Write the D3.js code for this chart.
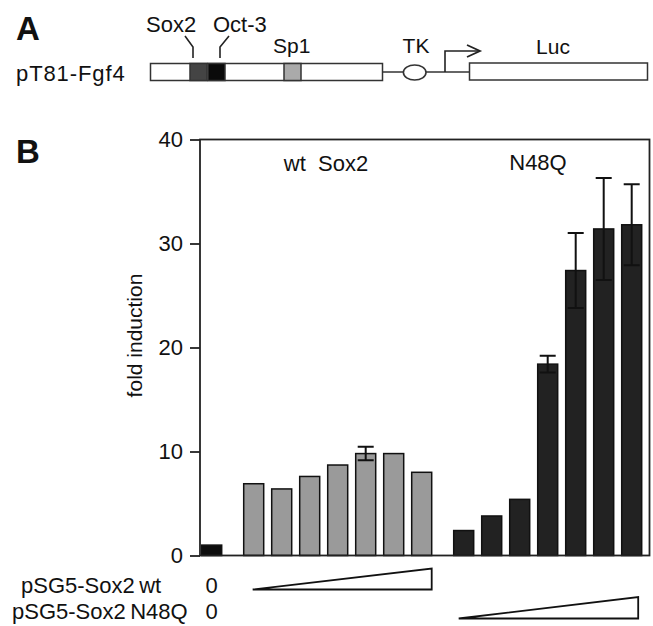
<!DOCTYPE html>
<html>
<head>
<meta charset="utf-8">
<script src="https://cdn.jsdelivr.net/npm/d3@7"></script>
<style>
  body { margin: 0; background: #fff; }
  text { font-family: "Liberation Sans", Arial, Helvetica, sans-serif; fill: #111; }
</style>
</head>
<body>
<div id="main"></div>
<script>
// values
var ctrlValue = [1.0];
var wtValues = [6.9, 6.4, 7.6, 8.7, 9.8, 9.8, 8.0];
var wtErr = [0, 0, 0, 0, 0.65, 0, 0];
var n48qValues = [2.4, 3.8, 5.4, 18.4, 27.4, 31.4, 31.8];
var n48qErr = [0, 0, 0, 0.8, 3.6, 4.9, 3.9];
var yTicks = [0, 10, 20, 30, 40];

var w = 653, h = 626;

var svg = d3.select("#main")
  .append("svg")
  .attr("width", w)
  .attr("height", h);

// ---------- panel A : reporter construct ----------
var a = svg.append("g");

a.append("text").attr("x", 16).attr("y", 40)
  .style("font-size", "33px").style("font-weight", "bold").text("A");
a.append("text").attr("x", 16).attr("y", 81)
  .style("font-size", "22px").style("letter-spacing", "0.9px").text("pT81-Fgf4");

// promoter box
a.append("rect").attr("x", 150.5).attr("y", 63.5).attr("width", 232).attr("height", 17)
  .attr("fill", "#fff").attr("stroke", "#333").attr("stroke-width", 1.5);
var sites = [
  {x: 190, w: 17, fill: "#444"},
  {x: 208, w: 17, fill: "#0a0a0a"},
  {x: 284, w: 17, fill: "#aaa"}
];
a.selectAll(".site").data(sites).enter().append("rect")
  .attr("x", function(d) { return d.x; })
  .attr("y", 63.5)
  .attr("width", function(d) { return d.w; })
  .attr("height", 17)
  .attr("fill", function(d) { return d.fill; })
  .attr("stroke", "#333").attr("stroke-width", 1.5);

// leader lines
a.append("path").attr("d", "M185,36 L193,47 L193,58").attr("fill", "none")
  .attr("stroke", "#222").attr("stroke-width", 1.6);
a.append("path").attr("d", "M229,36 L220,47 L220,58").attr("fill", "none")
  .attr("stroke", "#222").attr("stroke-width", 1.6);

a.append("text").attr("x", 146).attr("y", 32).style("font-size", "22px").text("Sox2");
a.append("text").attr("x", 213).attr("y", 32).style("font-size", "22px").text("Oct-3");
a.append("text").attr("x", 273).attr("y", 53).style("font-size", "21px").text("Sp1");

// linker, TK and start arrow
a.append("line").attr("x1", 382.5).attr("x2", 469).attr("y1", 72).attr("y2", 72)
  .attr("stroke", "#333").attr("stroke-width", 1.6);
a.append("ellipse").attr("cx", 414.7).attr("cy", 72.5).attr("rx", 11.3).attr("ry", 7.5)
  .attr("fill", "#fff").attr("stroke", "#333").attr("stroke-width", 1.6);
a.append("text").attr("x", 416).attr("y", 53).attr("text-anchor", "middle")
  .style("font-size", "21px").text("TK");
a.append("path").attr("d", "M445,72 L445,51 L479,51").attr("fill", "none")
  .attr("stroke", "#222").attr("stroke-width", 1.6);
a.append("path").attr("d", "M467,45 L480,51 L467,57").attr("fill", "none")
  .attr("stroke", "#222").attr("stroke-width", 1.8);

// luciferase box
a.append("rect").attr("x", 469.5).attr("y", 63).attr("width", 178).attr("height", 17)
  .attr("fill", "#fff").attr("stroke", "#333").attr("stroke-width", 1.5);
a.append("text").attr("x", 553).attr("y", 54).attr("text-anchor", "middle")
  .style("font-size", "21px").text("Luc");

// ---------- panel B : bar chart ----------
svg.append("text").attr("x", 16).attr("y", 163)
  .style("font-size", "33px").style("font-weight", "bold").text("B");

var plotLeft = 200, plotRight = 649.5, plotTop = 139.5, plotBottom = 555.5;

var y = d3.scaleLinear().domain([0, 40]).range([plotBottom, plotTop]);

// slot positions: control, wt series, N48Q series with one-and-a-half slot gaps
var bars = [];
ctrlValue.forEach(function(v) { bars.push({slot: 0, v: v, e: 0, kind: "ctrl"}); });
wtValues.forEach(function(v, i) { bars.push({slot: 1.5 + i, v: v, e: wtErr[i], kind: "wt"}); });
n48qValues.forEach(function(v, i) { bars.push({slot: 9 + i, v: v, e: n48qErr[i], kind: "mut"}); });

var x = d3.scaleLinear().domain([0, 15]).range([211.7, 631.7]);
var bw = 20;
var fills = {ctrl: "#0d0d0d", wt: "#9a9a9a", mut: "#222"};

svg.selectAll(".bar").data(bars).enter().append("rect")
  .attr("x", function(d) { return x(d.slot) - bw / 2; })
  .attr("y", function(d) { return y(d.v); })
  .attr("width", bw)
  .attr("height", function(d) { return y(0) - y(d.v); })
  .attr("fill", function(d) { return fills[d.kind]; })
  .attr("stroke", "#111").attr("stroke-width", 1.5);

// error bars
var errs = bars.filter(function(d) { return d.e > 0; });
var cap = 8;
svg.selectAll(".err").data(errs).enter().append("path")
  .attr("d", function(d) {
    var cx = x(d.slot), t = y(d.v + d.e), b = y(d.v - d.e);
    return "M" + (cx - cap) + "," + t + "H" + (cx + cap) +
      "M" + cx + "," + t + "V" + b +
      "M" + (cx - cap) + "," + b + "H" + (cx + cap);
  })
  .attr("fill", "none").attr("stroke", "#111").attr("stroke-width", 2);

// frame
svg.append("rect").attr("x", plotLeft).attr("y", plotTop)
  .attr("width", plotRight - plotLeft).attr("height", plotBottom - plotTop)
  .attr("fill", "none").attr("stroke", "#222").attr("stroke-width", 1.8);

// y axis
var yAxis = d3.axisLeft(y).tickValues(yTicks).tickSize(10).tickPadding(7);
var gy = svg.append("g").attr("transform", "translate(" + plotLeft + ",0)").call(yAxis);
gy.select(".domain").remove();
gy.selectAll(".tick line").attr("stroke", "#222").attr("stroke-width", 1.8);
gy.selectAll(".tick text")
  .style("font-size", "22px")
  .style("font-family", "'Liberation Sans', Arial, sans-serif")
  .attr("fill", "#111");

svg.append("text")
  .attr("transform", "translate(142," + ((plotTop + plotBottom) / 2 - 12) + ") rotate(-90)")
  .attr("text-anchor", "middle")
  .style("font-size", "21px").text("fold induction");

svg.append("text").attr("x", 326).attr("y", 171).attr("text-anchor", "middle")
  .style("font-size", "22px").style("white-space", "pre").text("wt  Sox2");
svg.append("text").attr("x", 538).attr("y", 170).attr("text-anchor", "middle")
  .style("font-size", "22px").text("N48Q");

// ---------- dose rows ----------
svg.append("text").attr("x", 21).attr("y", 592.5).style("font-size", "22px")
  .text("pSG5-Sox2\u2009wt");
svg.append("text").attr("x", 12).attr("y", 618.5).style("font-size", "22px")
  .text("pSG5-Sox2\u2009N48Q");
svg.append("text").attr("x", x(0)).attr("y", 592.5).attr("text-anchor", "middle")
  .style("font-size", "22px").text("0");
svg.append("text").attr("x", x(0)).attr("y", 618.5).attr("text-anchor", "middle")
  .style("font-size", "22px").text("0");

// dose ramps
function ramp(x0, x1, yb, ht) {
  svg.append("path")
    .attr("d", "M" + x0 + "," + yb + "L" + x1 + "," + (yb - ht) + "L" + x1 + "," + yb + "Z")
    .attr("fill", "#fff").attr("stroke", "#111").attr("stroke-width", 1.8)
    .attr("stroke-linejoin", "miter");
}
ramp(x(1.5) - 1, x(7.5) + bw / 2, 589.5, 21);
ramp(x(9) - 5, x(15) + 6.5, 618.5, 21.5);
</script>
</body>
</html>
